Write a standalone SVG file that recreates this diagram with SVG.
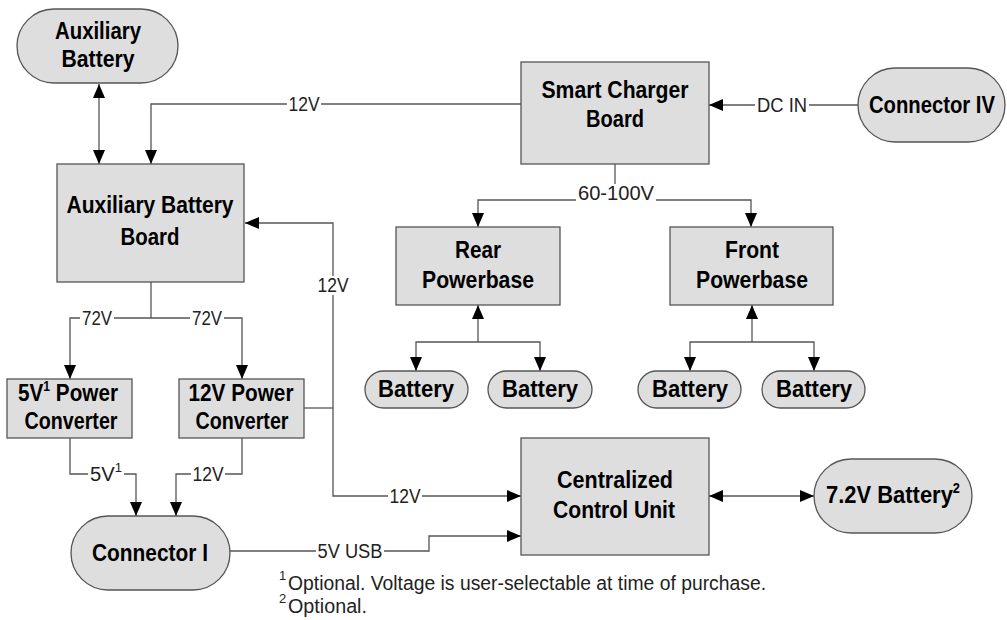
<svg xmlns="http://www.w3.org/2000/svg" width="1007" height="620" viewBox="0 0 1007 620">
<style>
.n{fill:#dedede;stroke:#555;stroke-width:1.3}
.t{font-family:"Liberation Sans",Arial,sans-serif;font-weight:bold;font-size:24px;fill:#000;text-anchor:middle}
.c path{fill:none;stroke:#555;stroke-width:1.3}
.c rect{fill:#fff}
.l{font-family:"Liberation Sans",Arial,sans-serif;font-size:20px;fill:#222;text-anchor:middle}
.f{font-family:"Liberation Sans",Arial,sans-serif;font-size:20px;fill:#222}
.s{font-family:"Liberation Sans",Arial,sans-serif;font-size:13px;fill:#222}
</style>
<defs>
<marker id="a" viewBox="0 0 14 12" refX="14" refY="6" markerWidth="14" markerHeight="12" markerUnits="userSpaceOnUse" orient="auto-start-reverse"><path d="M0,0 L14,6 L0,12 z" fill="#000"/></marker>
</defs>
<g class="c" id="connectors">
<path d="M99,84 V164" marker-start="url(#a)" marker-end="url(#a)"/>
<path d="M521,104 H151 V164" marker-end="url(#a)"/>
<path d="M858,105 H709" marker-end="url(#a)"/>
<path d="M615,164 V200"/>
<path d="M615,200 H478 V227" marker-end="url(#a)"/>
<path d="M615,200 H751 V227" marker-end="url(#a)"/>
<path d="M478,342 V305" marker-end="url(#a)"/>
<path d="M478,342 H416 V371" marker-end="url(#a)"/>
<path d="M478,342 H540 V371" marker-end="url(#a)"/>
<path d="M752,342 V305" marker-end="url(#a)"/>
<path d="M752,342 H690 V371" marker-end="url(#a)"/>
<path d="M752,342 H814 V371" marker-end="url(#a)"/>
<path d="M151,282 V318"/>
<path d="M151,318 H70 V379" marker-end="url(#a)"/>
<path d="M151,318 H242 V379" marker-end="url(#a)"/>
<path d="M304,408 H333"/>
<path d="M333,408 V223 H245" marker-end="url(#a)"/>
<path d="M333,408 V496 H521" marker-end="url(#a)"/>
<path d="M70,438 V474 H136 V516" marker-end="url(#a)"/>
<path d="M242,438 V474 H176 V516" marker-end="url(#a)"/>
<path d="M230,551 H429 V536 H521" marker-end="url(#a)"/>
<path d="M709,496 H814" marker-start="url(#a)" marker-end="url(#a)"/>
<rect x="287" y="95" width="34" height="18"/><text class="l" x="304" y="111" textLength="31" lengthAdjust="spacingAndGlyphs">12V</text>
<rect x="755" y="96" width="54" height="18"/><text class="l" x="782" y="112" textLength="50" lengthAdjust="spacingAndGlyphs">DC IN</text>
<rect x="576" y="184" width="80" height="18"/><text class="l" x="616" y="200" textLength="76" lengthAdjust="spacingAndGlyphs">60-100V</text>
<rect x="80" y="309" width="34" height="18"/><text class="l" x="97" y="325" textLength="30" lengthAdjust="spacingAndGlyphs">72V</text>
<rect x="190" y="309" width="34" height="18"/><text class="l" x="207" y="325" textLength="30" lengthAdjust="spacingAndGlyphs">72V</text>
<rect x="316" y="276" width="34" height="19"/><text class="l" x="333" y="292" textLength="31" lengthAdjust="spacingAndGlyphs">12V</text>
<rect x="88" y="464" width="36" height="19"/><text class="l" x="106" y="481" textLength="32" lengthAdjust="spacingAndGlyphs">5V<tspan font-size="13" dy="-9">1</tspan></text>
<rect x="191" y="465" width="34" height="18"/><text class="l" x="208" y="481" textLength="31" lengthAdjust="spacingAndGlyphs">12V</text>
<rect x="388" y="487" width="34" height="18"/><text class="l" x="405" y="503" textLength="31" lengthAdjust="spacingAndGlyphs">12V</text>
<rect x="316" y="542" width="68" height="18"/><text class="l" x="350" y="558" textLength="65" lengthAdjust="spacingAndGlyphs">5V USB</text>
</g>
<g id="aux-battery"><rect class="n" x="17" y="9" width="161" height="74" rx="37"/><text class="t" x="98" y="39" textLength="86" lengthAdjust="spacingAndGlyphs">Auxiliary</text><text class="t" x="98" y="67" textLength="73" lengthAdjust="spacingAndGlyphs">Battery</text></g>
<g id="aux-board"><rect class="n" x="57" y="164" width="187" height="118"/><text class="t" x="150" y="213" textLength="167" lengthAdjust="spacingAndGlyphs">Auxiliary Battery</text><text class="t" x="150" y="245" textLength="59" lengthAdjust="spacingAndGlyphs">Board</text></g>
<g id="smart-charger"><rect class="n" x="521" y="62" width="188" height="102"/><text class="t" x="615" y="98" textLength="147" lengthAdjust="spacingAndGlyphs">Smart Charger</text><text class="t" x="615" y="127" textLength="58" lengthAdjust="spacingAndGlyphs">Board</text></g>
<g id="connector-iv"><rect class="n" x="858" y="68" width="147" height="74" rx="37"/><text class="t" x="932" y="113" textLength="126" lengthAdjust="spacingAndGlyphs">Connector IV</text></g>
<g id="rear"><rect class="n" x="396" y="227" width="164" height="78"/><text class="t" x="478" y="258" textLength="46" lengthAdjust="spacingAndGlyphs">Rear</text><text class="t" x="478" y="288" textLength="112" lengthAdjust="spacingAndGlyphs">Powerbase</text></g>
<g id="front"><rect class="n" x="670" y="227" width="163" height="78"/><text class="t" x="752" y="258" textLength="54" lengthAdjust="spacingAndGlyphs">Front</text><text class="t" x="752" y="288" textLength="112" lengthAdjust="spacingAndGlyphs">Powerbase</text></g>
<g id="battery1"><rect class="n" x="365" y="371" width="103" height="37" rx="18.5"/><text class="t" x="416" y="397" textLength="76" lengthAdjust="spacingAndGlyphs">Battery</text></g>
<g id="battery2"><rect class="n" x="488" y="371" width="104" height="37" rx="18.5"/><text class="t" x="540" y="397" textLength="76" lengthAdjust="spacingAndGlyphs">Battery</text></g>
<g id="battery3"><rect class="n" x="638" y="371" width="103" height="37" rx="18.5"/><text class="t" x="690" y="397" textLength="76" lengthAdjust="spacingAndGlyphs">Battery</text></g>
<g id="battery4"><rect class="n" x="762" y="371" width="103" height="37" rx="18.5"/><text class="t" x="814" y="397" textLength="76" lengthAdjust="spacingAndGlyphs">Battery</text></g>
<g id="pc5"><rect class="n" x="7" y="379" width="125" height="59"/><text class="t" x="68" y="401" textLength="100" lengthAdjust="spacingAndGlyphs">5V<tspan font-size="14" dy="-10">1</tspan><tspan dy="10"> Power</tspan></text><text class="t" x="71" y="429" textLength="93" lengthAdjust="spacingAndGlyphs">Converter</text></g>
<g id="pc12"><rect class="n" x="179" y="379" width="125" height="59"/><text class="t" x="241" y="401" textLength="105" lengthAdjust="spacingAndGlyphs">12V Power</text><text class="t" x="242" y="429" textLength="93" lengthAdjust="spacingAndGlyphs">Converter</text></g>
<g id="connector-i"><rect class="n" x="71" y="516" width="159" height="74" rx="37"/><text class="t" x="150" y="561" textLength="116" lengthAdjust="spacingAndGlyphs">Connector I</text></g>
<g id="ccu"><rect class="n" x="521" y="438" width="188" height="117"/><text class="t" x="615" y="488" textLength="116" lengthAdjust="spacingAndGlyphs">Centralized</text><text class="t" x="614" y="518" textLength="122" lengthAdjust="spacingAndGlyphs">Control Unit</text></g>
<g id="battery72"><rect class="n" x="814" y="459" width="158" height="74" rx="37"/><text class="t" x="893" y="503" textLength="134" lengthAdjust="spacingAndGlyphs">7.2V Battery<tspan font-size="14" dy="-10">2</tspan></text></g>
<g id="footnotes">
<text class="s" x="279" y="580">1</text>
<text class="f" x="288" y="590" textLength="478" lengthAdjust="spacingAndGlyphs">Optional. Voltage is user-selectable at time of purchase.</text>
<text class="s" x="279" y="603">2</text>
<text class="f" x="288" y="613" textLength="79" lengthAdjust="spacingAndGlyphs">Optional.</text>
</g>
</svg>
